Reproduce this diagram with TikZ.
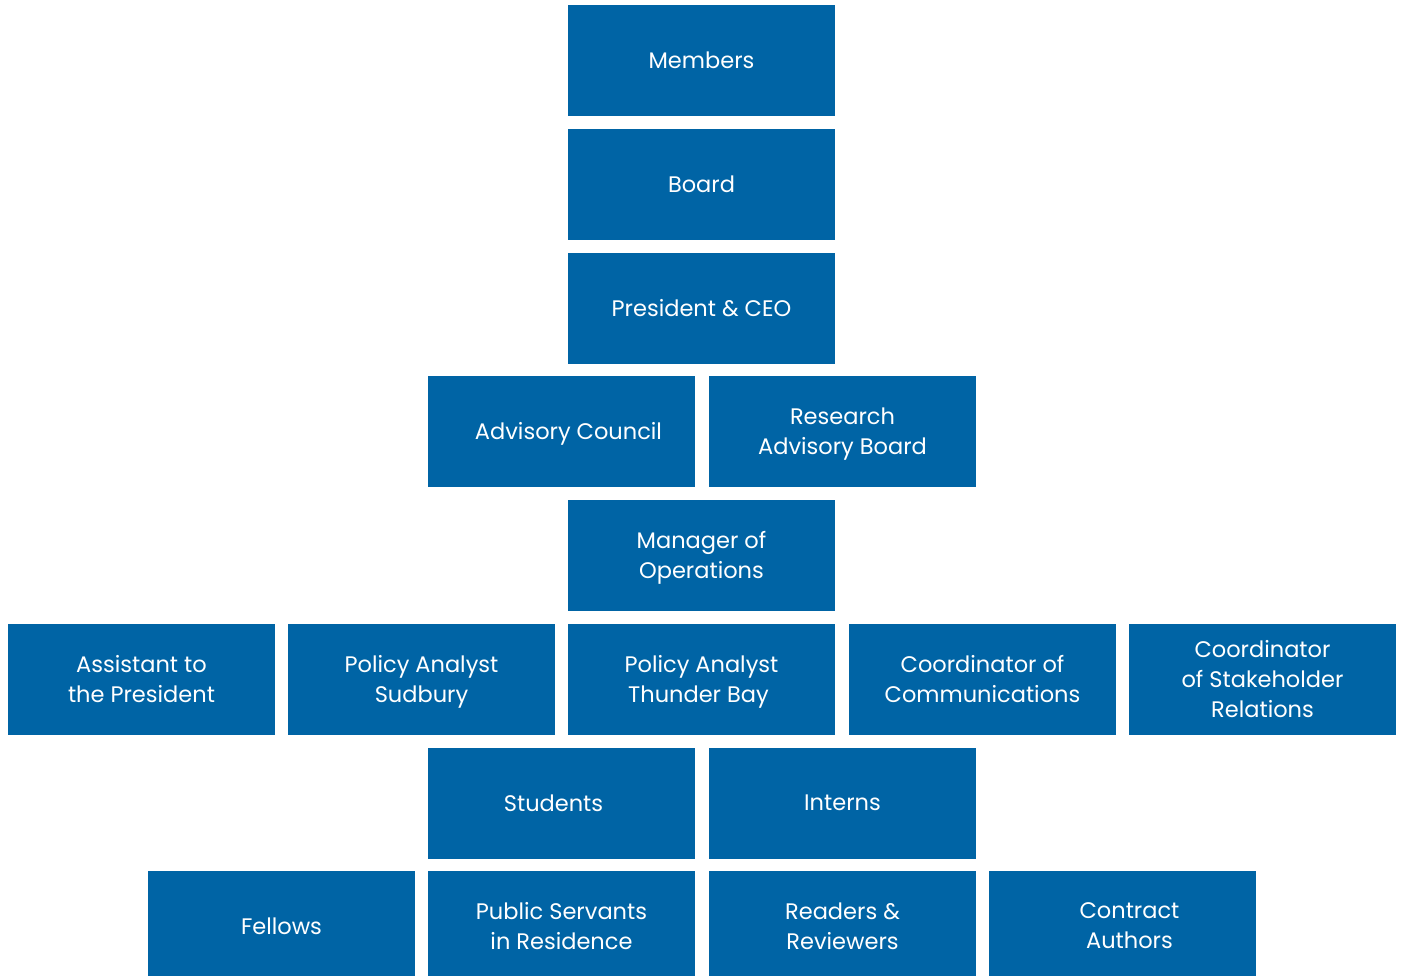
\documentclass[tikz,border=0pt]{standalone}
\usepackage{fontspec}
\setmainfont{Poppins}
\definecolor{boxblue}{HTML}{0064A5}
\begin{document}
\begin{tikzpicture}[x=1pt,y=-1pt,
  orgbox/.style={fill=boxblue, draw=none, minimum width=267pt, minimum height=111pt, inner sep=0pt,
    text=white, align=center, text depth=1pt, font=\fontsize{22.5}{30}\selectfont}]
\useasboundingbox (0,0) rectangle (1401,976);
\node[orgbox] (members) at (701.5,60.5) {Members};
\node[orgbox] (board) at (701.5,184.5) {Board};
\node[orgbox] (ceo) at (701.5,308.5) {President \& CEO};
\node[orgbox] (advc) at (561.5,431.5) {\hspace*{14pt}Advisory Council};
\node[orgbox] (rab) at (842.5,431.5) {Research\\Advisory Board};
\node[orgbox] (mgr) at (701.5,555.5) {Manager of\\Operations};
\node[orgbox] (asst) at (141.5,679.5) {Assistant to\\the President};
\node[orgbox] (pas) at (421.5,679.5) {Policy Analyst\\Sudbury};
\node[orgbox] (patb) at (701.5,679.5) {Policy Analyst\\Thunder Bay\hspace*{6pt}};
\node[orgbox] (comm) at (982.5,679.5) {Coordinator of\\Communications};
\node[orgbox] (stake) at (1262.5,679.5) {Coordinator\\of Stakeholder\\Relations};
\node[orgbox] (stud) at (561.5,803.5) {Students\hspace*{16pt}};
\node[orgbox] (int) at (842.5,803.5) {Interns};
\node[orgbox] (fel) at (281.5,926.5) {Fellows};
\node[orgbox] (psr) at (561.5,926.5) {Public Servants\\in Residence};
\node[orgbox] (rr) at (842.5,926.5) {Readers \&\\Reviewers};
\node[orgbox] (ca) at (1122.5,926.5) {\hspace*{14pt}Contract\\\hspace*{14pt}Authors};
\end{tikzpicture}
\end{document}
